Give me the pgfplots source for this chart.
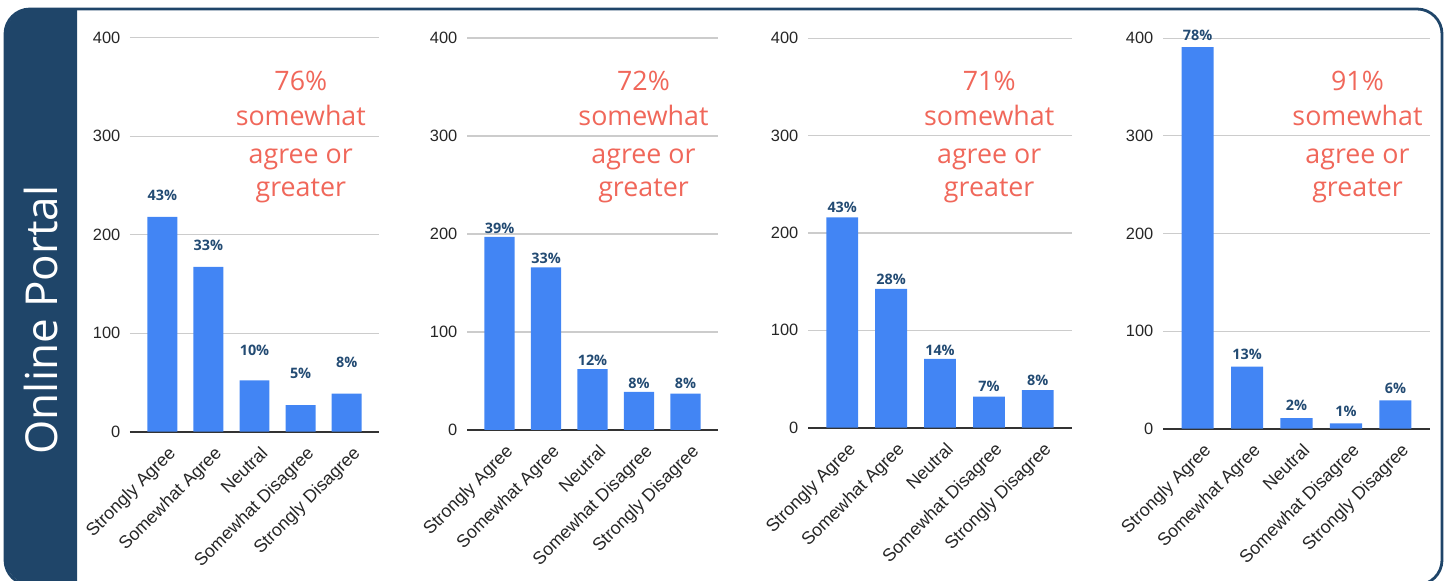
\documentclass[border=0pt]{standalone}
\usepackage{fontspec}
\setmainfont{Open Sans}
\newfontfamily\lib{Liberation Sans}
\usepackage{pgfplots}
\pgfplotsset{compat=1.18}
\usepackage{pgfplotstable}
\definecolor{navy}{HTML}{1F4569}
\definecolor{barblue}{HTML}{4285F4}
\definecolor{salmon}{HTML}{F0675A}
\definecolor{gridgray}{HTML}{CCCCCC}
\definecolor{basegray}{HTML}{333333}
\definecolor{labnavy}{HTML}{234B73}

\pgfplotstableread{
x y ly p
0 218 240 43
1 167.2 189.5 33
2 52 83 10
3 27 59.6 5
4 38.6 70.8 8
}\dataA
\pgfplotstableread{
x y ly p
0 197 206 39
1 166 175.5 33
2 62 70.7 12
3 39 47.6 8
4 37 47.6 8
}\dataB
\pgfplotstableread{
x y ly p
0 216 226.7 43
1 142.5 152.4 28
2 70.6 79 14
3 32 42 7
4 38.7 49 8
}\dataC
\pgfplotstableread{
x y ly p
0 391 403.4 78
1 63.5 76.5 13
2 10.7 23.6 2
3 5.5 17.4 1
4 29 41.4 6
}\dataD

\pgfplotsset{
  panelstyle/.style={
    scale only axis, anchor=south west,
    xmin=-0.7, xmax=4.7, ymin=0, ymax=400,
    xtick={0,1,2,3,4},
    xticklabels={Strongly Agree, Somewhat Agree, Neutral, Somewhat Disagree, Strongly Disagree},
    ytick={0,100,200,300,400},
    ymajorgrids,
    grid style={draw=gridgray, line width=0.55pt},
    axis line style={draw=none},
    major tick length=0pt,
    clip=false,
    extra y ticks={0}, extra y tick labels={},
    extra y tick style={ymajorgrids=true, grid style={draw=basegray, line width=1pt}},
    /pgf/number format/assume math mode=true,
    y tick label style={font=\lib\fontsize{8.2}{10}\selectfont, text=black!85, xshift=-1.3pt},
    x tick label style={xshift=2.5pt, yshift=-6.5pt, rotate=45, anchor=north east, inner sep=0pt,
      font=\lib\fontsize{8.9}{10}\selectfont, text=black!85},
  }
}

\newcommand\panel[5]{%
  \begin{axis}[panelstyle, at={(#1,#2)}, width=#3, height=#4]
    \addplot[ybar, bar width=0.65, fill=barblue, draw=none] table[x=x,y=y]{#5};
    \addplot[draw=none, mark=none, nodes near coords={\pgfplotspointmeta\%},
      point meta=explicit symbolic,
      every node near coord/.append style={anchor=center, inner sep=0pt,
        font=\fontsize{7.2}{9}\selectfont\bfseries, text=labnavy}]
      table[x=x,y=ly,meta=p]{#5};
  \end{axis}%
}

\newcommand\annot[2]{%
  \node[anchor=base, text=salmon, font=\fontsize{13.4}{16}\selectfont] at (#1,245.15pt) {#2\%};
  \node[anchor=base, text=salmon, font=\fontsize{13.4}{16}\selectfont] at (#1,227.5pt) {somewhat};
  \node[anchor=base, text=salmon, font=\fontsize{13.4}{16}\selectfont] at (#1,208.85pt) {agree or};
  \node[anchor=base, text=salmon, font=\fontsize{13.4}{16}\selectfont] at (#1,192.15pt) {greater};
}

\begin{document}
\begin{tikzpicture}
  \useasboundingbox (0,0) rectangle (725pt,290.5pt);
  % left dark panel
  \begin{scope}
    \clip (0pt,-5pt) rectangle (38.5pt,300pt);
    \fill[navy, rounded corners=14pt] (2.5pt,-2pt) rectangle (80pt,286.2pt);
  \end{scope}
  % outer frame
  \draw[navy, line width=1.4pt, rounded corners=12.5pt] (2.5pt,-2pt) rectangle (721pt,286pt);
  \node[rotate=90, anchor=base, text=white, font=\fontsize{22}{26}\selectfont] at (28.5pt,130.5pt) {Online Portal};

  \panel{65pt}{74.65pt}{124.5pt}{197pt}{\dataA}
  \panel{233.5pt}{75.5pt}{125.5pt}{196pt}{\dataB}
  \panel{404pt}{76.65pt}{132pt}{194.7pt}{\dataC}
  \panel{581.5pt}{76.15pt}{133.5pt}{195.2pt}{\dataD}

  \annot{150.4pt}{76}
  \annot{321.75pt}{72}
  \annot{494.6pt}{71}
  \annot{678.75pt}{91}
\end{tikzpicture}
\end{document}
